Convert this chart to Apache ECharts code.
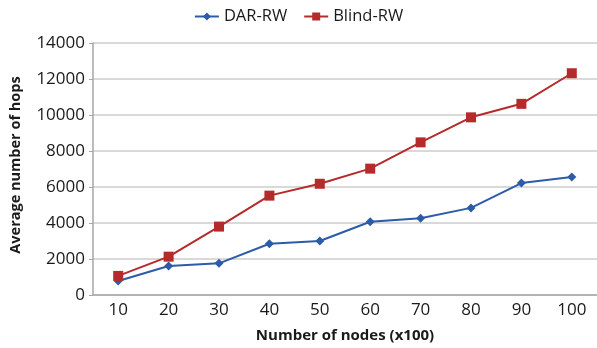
<!DOCTYPE html>
<html>
<head>
<meta charset="utf-8">
<style>
  html, body { margin: 0; padding: 0; background: #ffffff; }
  #chart { width: 597px; height: 348px; }
</style>
<script src="https://cdn.jsdelivr.net/npm/echarts@6/dist/echarts.min.js"></script>
</head>
<body>
<div id="chart"></div>
<script>
// Network size (hundreds of nodes)
const nodeCounts = ['10', '20', '30', '40', '50', '60', '70', '80', '90', '100'];
// Average hop counts per walk strategy
const darRW = [780, 1610, 1760, 2850, 3000, 4070, 4260, 4840, 6220, 6550];
const blindRW = [1060, 2130, 3800, 5520, 6180, 7020, 8480, 9870, 10620, 12320];

const FONT = '"Open Sans", "Liberation Sans", sans-serif';
const chart = echarts.init(document.getElementById('chart'), null, { renderer: 'canvas' });

chart.setOption({
  animation: false,
  backgroundColor: '#ffffff',
  legend: {
    top: 3,
    left: 'center',
    itemWidth: 24,
    itemHeight: 10,
    itemGap: 16,
    textStyle: { fontFamily: FONT, fontSize: 16.5, color: '#1a1a1a' },
    data: ['DAR-RW', 'Blind-RW']
  },
  grid: { left: 93, right: 0, top: 43, bottom: 50, containLabel: false },
  xAxis: {
    type: 'category',
    data: nodeCounts,
    boundaryGap: true,
    name: 'Number of nodes (x100)',
    nameLocation: 'middle',
    nameGap: 33,
    nameTextStyle: { fontFamily: FONT, fontSize: 15, fontWeight: 'bold', color: '#1a1a1a' },
    axisLine: { lineStyle: { color: '#a6a6a6', width: 1.5 } },
    axisTick: { show: false },
    axisLabel: { fontFamily: FONT, fontSize: 17, color: '#1a1a1a', margin: 7 }
  },
  yAxis: {
    type: 'value',
    min: 0,
    max: 14000,
    interval: 2000,
    name: 'Average number of hops',
    nameLocation: 'middle',
    nameGap: 70,
    nameTextStyle: { fontFamily: FONT, fontSize: 14.5, fontWeight: 'bold', color: '#1a1a1a', padding: [0, 0, 0, 8] },
    axisLine: { show: true, lineStyle: { color: '#a6a6a6', width: 1.5 } },
    axisTick: { show: true, length: 4, lineStyle: { color: '#a6a6a6' } },
    axisLabel: {
      fontFamily: FONT, fontSize: 17, color: '#1a1a1a', margin: 8,
      formatter: (v) => String(v)
    },
    splitLine: { lineStyle: { color: '#cccccc', width: 1.5 } }
  },
  series: [
    {
      name: 'DAR-RW',
      type: 'line',
      data: darRW,
      symbol: 'diamond',
      symbolSize: 9,
      color: '#2c5ca8',
      lineStyle: { width: 2, color: '#2c5ca8' },
      itemStyle: { color: '#2c5ca8' }
    },
    {
      name: 'Blind-RW',
      type: 'line',
      data: blindRW,
      symbol: 'rect',
      symbolSize: 10,
      color: '#b52a2a',
      lineStyle: { width: 2, color: '#b52a2a' },
      itemStyle: { color: '#b52a2a' }
    }
  ]
});
</script>
</body>
</html>
